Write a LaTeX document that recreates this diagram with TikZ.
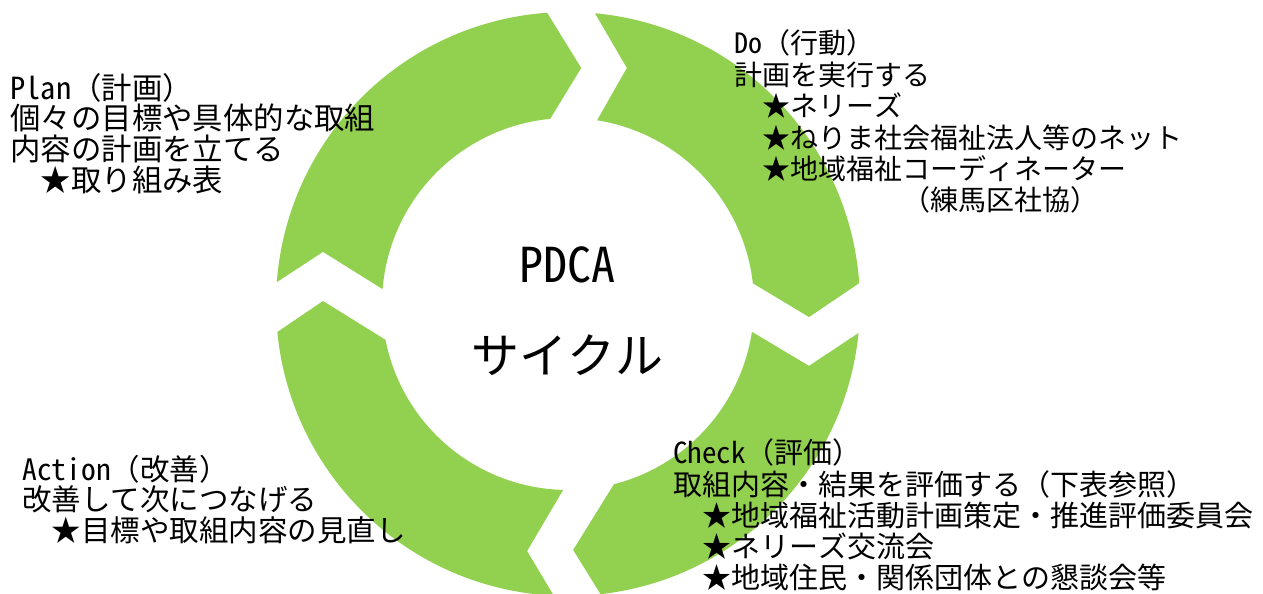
\documentclass[tikz,border=0pt]{standalone}
\usepackage{fontspec}
\newfontfamily\jp{Noto Sans Mono CJK JP}
\definecolor{ringgreen}{HTML}{92D050}
\begin{document}
\begin{tikzpicture}[x=0.5pt,y=0.5pt,
  seg/.style={fill=ringgreen,draw=none},
  txt/.style={anchor=base west,inner sep=0pt},
  fP/.style={font=\jp\fontsize{15.2}{16}\selectfont},
  fD/.style={font=\jp\fontsize{14}{16}\selectfont},
  fC/.style={font=\jp\fontsize{14.5}{16}\selectfont},
  fA/.style={font=\jp\fontsize{14.75}{16}\selectfont},
  big/.style={anchor=base,inner sep=0pt,font=\jp\fontsize{24}{26}\selectfont}]
\useasboundingbox (0,0) rectangle (1263,594);
\fill[white] (0,0) rectangle (1263,594);
\begin{scope}[shift={(568,290)}]
  % Plan
  \path[seg] (175.7:292) arc[start angle=175.7,end angle=94.1,radius=292]
    -- (86.8:236.4) -- (95.5:186) arc[start angle=95.5,end angle=175.4,radius=186]
    -- (168:250.5) -- cycle;
  % Do
  \path[seg] (84.7:292) arc[start angle=84.7,end angle=4.1,radius=292]
    -- (-3.1:241.4) -- (6.4:186) arc[start angle=6.4,end angle=81.0,radius=186]
    -- (76:243.3) -- cycle;
  % Check
  \path[seg] (-5.7:292) arc[start angle=-5.7,end angle=-83.6,radius=292]
    -- (-88.8:246) -- (-75.7:186) arc[start angle=-75.7,end angle=-8.6,radius=186]
    -- (-14.4:248.8) -- cycle;
  % Action
  \path[seg] (-92.8:292) arc[start angle=-92.8,end angle=-174.5,radius=292]
    -- (-180.7:245) -- (-168.9:186) arc[start angle=-168.9,end angle=-91.5,radius=186]
    -- (-99.4:250.4) -- cycle;
\end{scope}
% centre
\node[big] (pdca) at (567.5,311) {PDCA};
\node[big] (cycle) at (567.5,220) {サイクル};
% Plan
\node[txt,fP] (p1) at (10,494.5) {Plan（計画）};
\node[txt,fP] (p2) at (10,464) {個々の目標や具体的な取組};
\node[txt,fP] (p3) at (10,433) {内容の計画を立てる};
\node[txt,fP] (p4) at (10,402) {　★取り組み表};
% Do
\node[txt,fD] (d1) at (734,540) {Do（行動）};
\node[txt,fD] (d2) at (734,508.6) {計画を実行する};
\node[txt,fD] (d3) at (734,477.2) {　★ネリーズ};
\node[txt,fD] (d4) at (734,445.8) {　★ねりま社会福祉法人等のネット};
\node[txt,fD] (d5) at (734,414.4) {　★地域福祉コーディネーター};
\node[txt,fD] (d6) at (734,383) {　　　　　　（練馬区社協）};
% Check
\node[txt,fC] (c1) at (673,130) {Check（評価）};
\node[txt,fC] (c2) at (673,98.7) {取組内容・結果を評価する（下表参照）};
\node[txt,fC] (c3) at (673,67.4) {　★地域福祉活動計画策定・推進評価委員会};
\node[txt,fC] (c4) at (673,36) {　★ネリーズ交流会};
\node[txt,fC] (c5) at (673,5) {　★地域住民・関係団体との懇談会等};
% Action
\node[txt,fA] (a1) at (22,113) {Action（改善）};
\node[txt,fA] (a2) at (22,83) {改善して次につなげる};
\node[txt,fA] (a3) at (22,52) {　★目標や取組内容の見直し};
\end{tikzpicture}
\end{document}
